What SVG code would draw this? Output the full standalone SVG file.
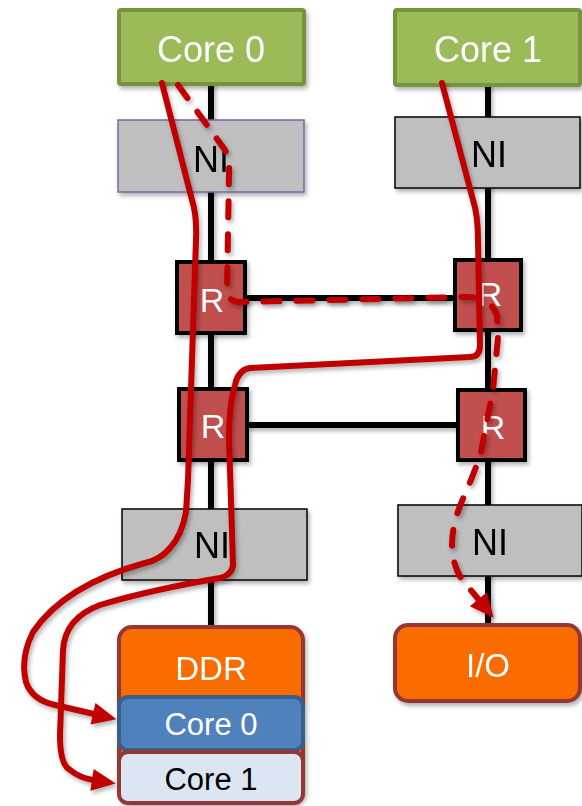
<svg xmlns="http://www.w3.org/2000/svg" width="582" height="806" viewBox="0 0 582 806">
<defs>
<filter id="sh" x="-10%" y="-10%" width="130%" height="130%">
<feDropShadow dx="2" dy="3" stdDeviation="2" flood-color="#000" flood-opacity="0.3"/>
</filter>
<marker id="ah" markerUnits="userSpaceOnUse" markerWidth="24" markerHeight="22" refX="1" refY="11" orient="auto" overflow="visible">
<path d="M0,0 L24,11 L0,22 Z" fill="#C00000"/>
</marker>
</defs>
<style>
.bus{stroke:#000;stroke-width:6;fill:none;stroke-linecap:round}
.core{fill:#9BBB59;stroke:#77933C;stroke-width:4}
.ni{fill:#BFBFBF;stroke:#000;stroke-width:1.5}
.r{fill:#C0504D;stroke:#000;stroke-width:4}
.mem{fill:#FA6C00;stroke:#953735;stroke-width:4}
.t{font-family:"Liberation Sans",Arial,sans-serif;text-anchor:middle}
.w{fill:#fff}
.k{fill:#000}
.p{fill:none;stroke:#C00000;stroke-width:6;stroke-linejoin:round;stroke-linecap:round}
.d{stroke-dasharray:16 17}
</style>
<g id="connectors" filter="url(#sh)">
<line class="bus" x1="211" y1="84" x2="211" y2="625"/>
<line class="bus" x1="488" y1="84" x2="488" y2="622"/>
<line class="bus" x1="246" y1="298" x2="454" y2="298"/>
<line class="bus" x1="249" y1="425" x2="457" y2="425"/>
</g>
<g id="core0-top" filter="url(#sh)">
<rect class="core" x="119" y="10" width="185" height="74" rx="2"/>
<text class="t w" x="211" y="62" font-size="36">Core 0</text>
</g>
<g id="core1-top" filter="url(#sh)">
<rect class="core" x="395" y="10" width="185" height="75" rx="2"/>
<text class="t w" x="488" y="62" font-size="36">Core 1</text>
</g>
<g id="ni0-top" filter="url(#sh)">
<rect class="ni" x="118" y="120" width="186" height="72" style="stroke:#8064A2"/>
<text class="t k" x="211" y="172" font-size="36">NI</text>
</g>
<g id="ni1-top" filter="url(#sh)">
<rect class="ni" x="395" y="117" width="185" height="71"/>
<text class="t k" x="489" y="167" font-size="36">NI</text>
</g>
<g id="r00" filter="url(#sh)">
<rect class="r" x="177" y="262" width="68" height="71"/>
<text class="t w" x="212" y="312" font-size="34">R</text>
</g>
<g id="r01" filter="url(#sh)">
<rect class="r" x="455" y="260" width="66" height="70"/>
<text class="t w" x="490" y="306" font-size="34">R</text>
</g>
<g id="r10" filter="url(#sh)">
<rect class="r" x="179" y="389" width="68" height="71"/>
<text class="t w" x="213" y="438" font-size="34">R</text>
</g>
<g id="r11" filter="url(#sh)">
<rect class="r" x="458" y="390" width="67" height="70"/>
<text class="t w" x="493" y="439" font-size="34">R</text>
</g>
<g id="ni0-bottom" filter="url(#sh)">
<rect class="ni" x="122" y="509" width="185" height="71"/>
<text class="t k" x="212" y="558" font-size="36">NI</text>
</g>
<g id="ni1-bottom" filter="url(#sh)">
<rect class="ni" x="398" y="505" width="184" height="71"/>
<text class="t k" x="490" y="555" font-size="36">NI</text>
</g>
<g id="ddr" filter="url(#sh)">
<rect class="mem" x="119" y="627" width="184" height="176" rx="13"/>
<text class="t w" x="211" y="680" font-size="33">DDR</text>
</g>
<g id="ddr-core0">
<rect x="119" y="697" width="184" height="53" rx="9" fill="#4F81BD" stroke="#3A5F8B" stroke-width="4"/>
<text class="t w" x="211" y="735" font-size="31">Core 0</text>
</g>
<g id="ddr-core1">
<rect x="119" y="752" width="184" height="51" rx="9" fill="#DCE6F2" stroke="#953735" stroke-width="4"/>
<text class="t k" x="211" y="790" font-size="31">Core 1</text>
</g>
<g id="io" filter="url(#sh)">
<rect class="mem" x="395" y="625" width="185" height="76" rx="13"/>
<text class="t w" x="488" y="677" font-size="33">I/O</text>
</g>
<g id="paths" filter="url(#sh)">
<path class="p" marker-end="url(#ah)" d="M162,83 L192,200 Q197,215 196,240 L188,480 L186,512 Q182,535 170,548 Q160,560 145,563 Q65,585 33,632 Q20,658 26,682 Q32,700 55,705 L94,714"/>
<path class="p" marker-end="url(#ah)" d="M442,83 L473,200 Q478,215 478,240 L480,345 Q480,357 470,357 L250,368 Q238,370 235,385 Q229,405 229,440 L231,500 L233,565 Q232,575 220,578 Q150,590 100,605 Q65,618 63,650 L60,735 Q60,765 70,770 Q80,778 93,780"/>
<path class="p d" marker-end="url(#ah)" d="M178,85 L225,150 Q230,160 229,175 L227,290 Q228,302 240,302 L463,297 Q490,296 497,315 L498,337 L493,390 L480,457 L467,490 Q452,520 452,545 Q453,570 465,583 L479,600"/>
</g>
</svg>
